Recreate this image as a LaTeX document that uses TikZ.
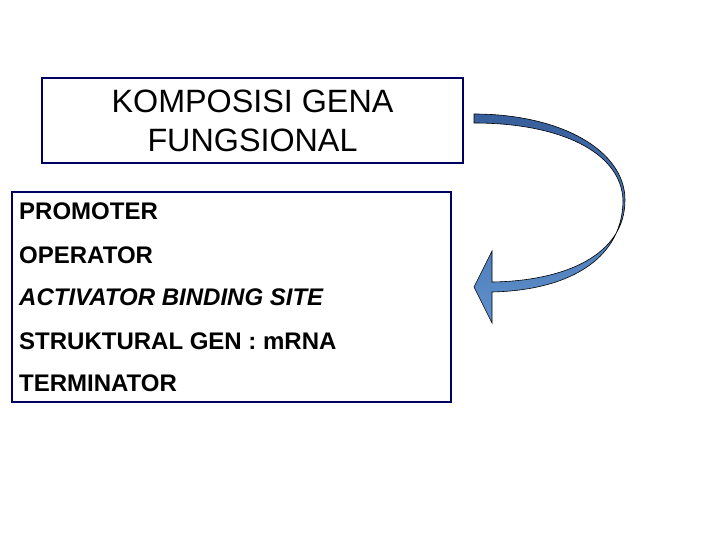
\documentclass[tikz,border=0pt]{standalone}
\usepackage{fontspec}
\setmainfont{Liberation Sans}

\definecolor{navy_box}{RGB}{0,0,100}
\definecolor{arrow_top}{RGB}{55,95,155}
\definecolor{arrow_bot}{RGB}{95,145,205}

\begin{document}
\begin{tikzpicture}[
    x=1pt, y=-1pt,
    titlebox/.style={rectangle, draw=navy_box, line width=2.5pt, fill=white,
                     minimum width=421pt, minimum height=85pt, align=center,
                     font=\fontsize{32.3}{39}\selectfont},
    listbox/.style={rectangle, draw=navy_box, line width=2.5pt, fill=white,
                    minimum width=439pt, minimum height=210pt},
    item/.style={anchor=base west, inner sep=0pt, font=\fontsize{24}{28}\selectfont\bfseries}
]
    \useasboundingbox (0,0) rectangle (720,540);

    % Title
    \node[titlebox] (title) at (252.5,120.5) {KOMPOSISI GENA\\FUNGSIONAL};

    % Components
    \node[listbox] (list) at (231.5,297) {};
    \node[item] (promoter)   at (19,220) {PROMOTER};
    \node[item] (operator)   at (19,263) {OPERATOR};
    \node[item] (activator)  at (19,305) {\itshape ACTIVATOR BINDING SITE};
    \node[item] (struktural) at (19,349) {STRUKTURAL GEN : mRNA};
    \node[item] (terminator) at (19,391) {TERMINATOR};

    % Curved arrow back to the list
    \shade[top color=arrow_top, bottom color=arrow_bot, draw=black, line width=0.6pt]
        (474,114) .. controls (560,114) and (625,150) .. (625,200)
        .. controls (625,255) and (565,281) .. (492,282)
        -- (492,251) -- (474,287) -- (492,323) -- (492,292)
        .. controls (575,290) and (623,255) .. (623,200)
        .. controls (621,152) and (560,123) .. (474,123) -- cycle;

\end{tikzpicture}
\end{document}
